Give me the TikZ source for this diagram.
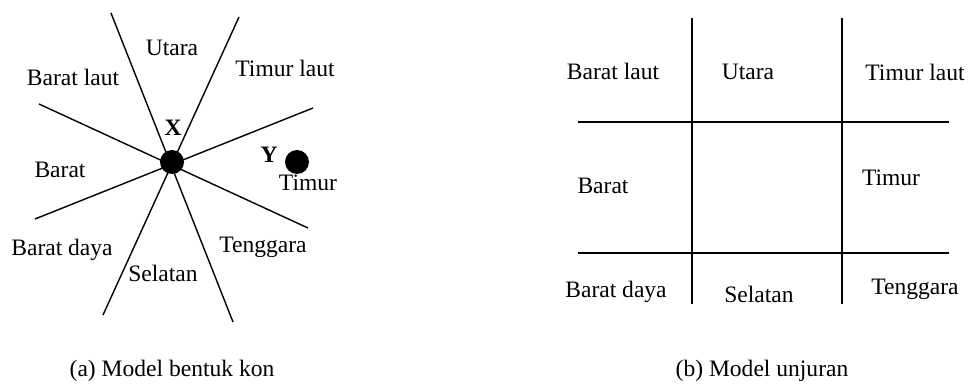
\documentclass[tikz,border=0pt]{standalone}
\usepackage{fontspec}
\setmainfont{Liberation Serif}
\tikzset{
  lbl/.style={font=\fontsize{13.4}{16}\selectfont, inner sep=0pt},
  dot/.style={circle, fill=black, minimum size=0.48cm, inner sep=0pt},
  ray/.style={line width=0.8pt},
  grid/.style={line width=1.1pt}
}
\begin{document}
\begin{tikzpicture}[x=0.02cm, y=-0.02cm]
\useasboundingbox (0,0) rectangle (970,385);

% (a) model bentuk kon
\coordinate (n1) at (111,13);  \coordinate (s1) at (233,322);
\coordinate (n2) at (239,17);  \coordinate (s2) at (103,315);
\coordinate (w1) at (39,104);  \coordinate (e1) at (308,228);
\coordinate (w2) at (35,219);  \coordinate (e2) at (313,108);
\draw[ray] (n1) -- (s1);
\draw[ray] (n2) -- (s2);
\draw[ray] (w1) -- (e1);
\draw[ray] (w2) -- (e2);
\node[dot] (x) at (172,162) {};
\node[dot] (y) at (297,162) {};
\node[lbl, font=\fontsize{13.4}{16}\selectfont\bfseries] (xlbl) at (173,128) {X};
\node[lbl, font=\fontsize{13.4}{16}\selectfont\bfseries] (ylbl) at (269,155) {Y};

\node[lbl] (utara) at (172,48) {Utara};
\node[lbl] (timurlaut) at (285,68) {Timur laut};
\node[lbl] (baratlaut) at (73,77) {Barat laut};
\node[lbl] (barat) at (60,170) {Barat};
\node[lbl] (timur) at (308,183) {Timur};
\node[lbl] (tenggara) at (263,247) {Tenggara};
\node[lbl] (baratdaya) at (62,250) {Barat daya};
\node[lbl] (selatan) at (163,273) {Selatan};
\node[lbl] (capa) at (172,371) {(a) Model bentuk kon};

% (b) model unjuran
\coordinate (v1t) at (692,18);  \coordinate (v1b) at (692,304);
\coordinate (v2t) at (842,18);  \coordinate (v2b) at (842,304);
\coordinate (h1l) at (578,122); \coordinate (h1r) at (949,122);
\coordinate (h2l) at (578,253); \coordinate (h2r) at (949,253);
\draw[grid] (v1t) -- (v1b);
\draw[grid] (v2t) -- (v2b);
\draw[grid] (h1l) -- (h1r);
\draw[grid] (h2l) -- (h2r);

\node[lbl] (bbaratlaut) at (613,71) {Barat laut};
\node[lbl] (butara) at (748,72) {Utara};
\node[lbl] (btimurlaut) at (915,72) {Timur laut};
\node[lbl] (bbarat) at (603,186) {Barat};
\node[lbl] (btimur) at (891,178) {Timur};
\node[lbl] (bbaratdaya) at (616,292) {Barat daya};
\node[lbl] (bselatan) at (759,294) {Selatan};
\node[lbl] (btenggara) at (915,289) {Tenggara};
\node[lbl] (capb) at (762,371) {(b) Model unjuran};
\end{tikzpicture}
\end{document}
